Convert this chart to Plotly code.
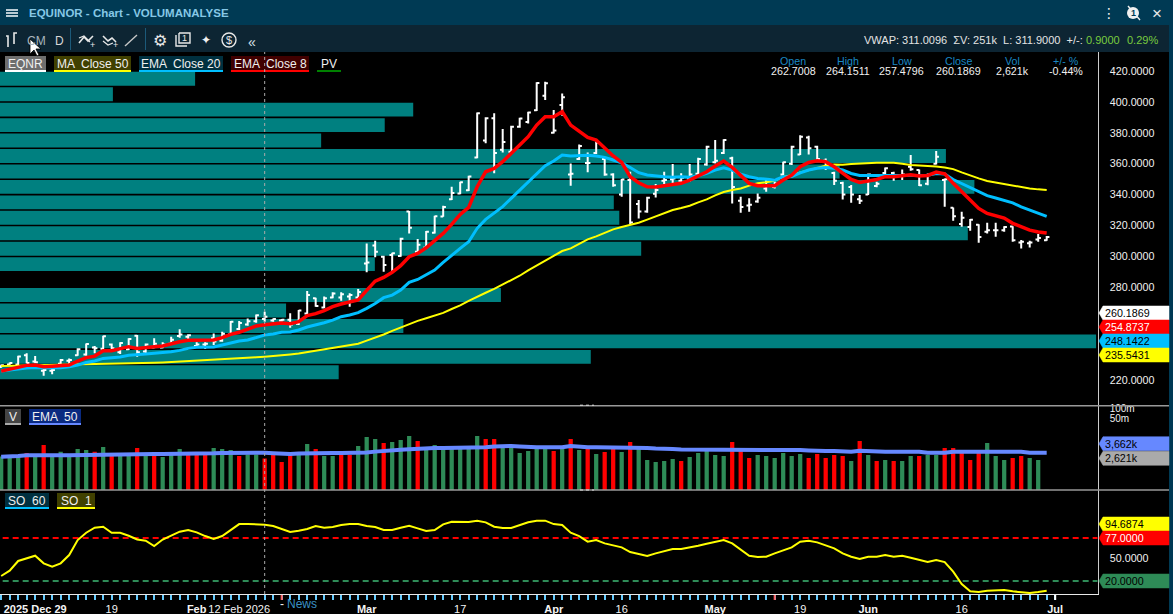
import plotly.graph_objects as go

W, H = 1173, 614

# price bars, one per trading day
open_ = [228.5, 230, 230, 236, 232, 226, 226, 230.5, 232.5, 236, 236.5, 241, 240.3, 243, 238, 240, 248.6, 238.5, 241, 241,
         243.5, 248.5, 248, 242, 243, 247, 245.5, 249.5, 253, 256, 258, 259.5, 258.5, 258.5, 259, 256.5, 263, 273, 267, 273.5,
         273.5, 274, 273.5, 295.5, 307, 299.8, 301, 300.3, 329, 303, 305.7, 315.4, 325.9, 337, 340.7, 342.8, 364, 375, 389.5, 369,
         367.8, 384, 387, 394.6, 404, 380, 398, 353, 363, 360.5, 367, 363, 353, 340, 349.5, 334, 329, 340.5, 349, 350,
         349, 350, 353.5, 359.5, 361, 367, 363.5, 336, 333, 335.5, 344, 345, 353, 360, 366, 377, 371, 362, 354, 347.5,
         345, 337, 340, 345.5, 354, 354, 352, 358, 356, 347, 359.9, 349.5, 331.5, 321, 319, 320.5, 316, 317, 317, 319.3,
         309, 308.5, 311, 310.5]
high = [230, 231.4, 235.8, 237.3, 235.5, 227.1, 227.1, 233.6, 234, 240.5, 243.7, 242, 248.7, 243.7, 244.4, 247, 249.1, 243.7, 247, 244.4,
        248.1, 252.8, 249.6, 244.4, 244.4, 250.2, 251.3, 258.2, 258.2, 259.9, 262.5, 264.2, 259.9, 259.5, 263.2, 265.3, 277.6, 273.3, 274, 276.8,
        276.8, 276.1, 278.9, 308.4, 310.2, 300.5, 302.4, 312.1, 329.4, 311.3, 316.4, 326.4, 332.8, 345.1, 348.4, 352.2, 393.2, 390, 392.6, 382.4,
        384.6, 389.8, 393.7, 412.7, 413.1, 394.7, 405.5, 360.2, 372.5, 367.3, 374.3, 363, 353.8, 350.1, 354.8, 336.5, 338.6, 346.8, 354.8, 359.8,
        353.8, 359.8, 363.9, 371.7, 375.3, 375.8, 364.5, 338.6, 337.6, 340.8, 350.5, 348.3, 361.3, 371.6, 378.5, 378.1, 371.6, 363.4, 354.8, 348.3,
        346.2, 339.7, 353.7, 348.3, 357.6, 354.8, 356.3, 365.6, 356.3, 353.7, 368.2, 350.5, 331.7, 328.9, 324.2, 320.9, 321.8, 321.8, 319.6, 319.6,
        310.6, 310.1, 314.5, 313.2]
low = [228, 229.7, 229.7, 230.8, 230.8, 222.8, 223.7, 229.7, 230.2, 235.8, 235.8, 237.3, 239.9, 239.4, 236.8, 239.4, 235.1, 237.3, 240.5, 240.5,
       242.7, 247.4, 245.9, 240.9, 240.1, 242.7, 244.8, 249.1, 252.4, 255.2, 257.1, 257.8, 257.8, 257.8, 253.9, 255.6, 262.5, 267.5, 266.4, 272.9,
       271.4, 267.5, 272.9, 289.7, 299.4, 290.1, 290.1, 299.8, 314.9, 302.6, 305.2, 314.9, 325.7, 336.5, 340.2, 342.3, 363.5, 373.2, 353.8, 367.3,
       367.3, 383.3, 386.1, 394.1, 401.2, 379.6, 391.1, 345.8, 362.4, 354.4, 366.3, 352.2, 345.1, 338.7, 321, 324.6, 328.3, 338.2, 346.8, 346.8,
       347.3, 348.4, 352.7, 358.7, 360.2, 366.3, 334.3, 328.3, 328.9, 334.8, 341.9, 344, 352.6, 359.1, 365.6, 366, 361.7, 355.9, 346.2, 336.9,
       334.7, 333.9, 339.7, 344.7, 353.3, 349, 349.4, 355.5, 345.5, 346, 359.5, 332.2, 323.1, 319.2, 316.6, 308.8, 314.9, 312.7, 316, 309.5,
       305.2, 305.8, 309.5, 310.1]
close = [229.5, 231, 235.3, 231, 231.5, 226.5, 226.5, 233, 233, 240, 243.3, 240.5, 248.4, 240.5, 244, 246.6, 238, 243, 243.5, 243,
         246, 249.5, 249, 243, 243.5, 245, 250, 257.8, 257, 258, 262, 261, 259.5, 259, 256, 265, 275, 268, 273, 276,
         275.5, 275, 277, 296, 303, 294.4, 302, 311.5, 318.5, 307.5, 316, 326, 332, 341, 348, 351.8, 392.6, 389.5, 367, 374,
         384, 389.3, 393.2, 412.2, 412, 381.5, 403, 353.5, 371.5, 360.5, 373.8, 353, 346, 349.8, 322, 329, 338, 343, 349.5, 350.5,
         351, 353, 363, 371, 362, 375.3, 345, 332, 333.5, 338, 350, 347, 361, 371, 377.5, 370, 363, 358, 349, 340,
         340, 336, 353, 347, 357, 352, 353, 356.5, 346, 353, 364.5, 350, 326, 325, 323.8, 312.5, 317, 317, 319, 310.5,
         309.5, 309, 312, 312.5]

ema_8 = [225.8, 227.1, 228.6, 229.5, 229.7, 228.6, 228.9, 229.3, 229.7, 232.3, 234.5, 235.5, 239, 239, 240.5, 241.6, 240.5, 241.2, 241.6, 242,
         243.5, 244.8, 245.7, 245.9, 245.9, 245.9, 247.4, 249.6, 250.9, 252.8, 255, 255.8, 256.5, 256.9, 256.5, 257.8, 261.7, 263, 264.9, 267.5,
         269.2, 270.3, 271.8, 278, 284, 286.4, 289.7, 294, 299.8, 302, 305.6, 310.2, 314.9, 320.7, 327.2, 331.7, 345.1, 354.8, 357, 361.3,
         366.7, 372.1, 377.5, 385, 390.4, 390.4, 393.7, 385, 381.2, 377, 375.3, 370, 365, 360.9, 351.6, 347.7, 345.1, 344.9, 345.6, 346.2,
         347.3, 349.4, 352.2, 354.8, 358.5, 361.7, 357.6, 352.7, 347.3, 345.8, 345.6, 345.8, 349.4, 352.6, 358, 360.8, 361.9, 361.3, 358, 353.7,
         349.8, 347.9, 348.8, 349.8, 351.6, 351.6, 352.2, 352.9, 352, 352.4, 354.6, 353.5, 347.3, 341.9, 336.5, 331.1, 327.8, 326.1, 324.8, 321.4,
         319.2, 317, 315.8, 315.1]
ema_20 = [225.8, 226.5, 227.3, 227.8, 228.2, 228, 228, 228, 228.6, 229.7, 231.4, 232.3, 234, 234.5, 234.9, 236, 236.2, 236.8, 237.3, 237.7,
          238.3, 239.2, 240.5, 241.2, 241.4, 241.4, 242.7, 244.2, 245.3, 245.9, 247.4, 249.1, 249.8, 250.9, 251.1, 252.4, 254.3, 255.6, 257.1, 258.8,
          261, 262.1, 263.6, 266.4, 269.5, 273.3, 275, 278.2, 283.2, 285.1, 288, 291.2, 296.1, 300.9, 305.2, 309.5, 318.2, 324, 327.9, 332.2,
          337.6, 343, 348.4, 353.8, 358.7, 361.7, 365.6, 365, 365.4, 365.4, 365, 364.1, 362.4, 360.5, 357.6, 354.2, 352.7, 352, 351.6, 351.2,
          351.6, 351.2, 352.2, 353.7, 355.9, 357.4, 355.9, 353.3, 351.6, 350.5, 349.9, 349.4, 351.6, 351.8, 354.1, 355.9, 357, 357.6, 357, 355.9,
          353.7, 352.4, 352.4, 352.4, 352.6, 352.6, 352.6, 352.6, 352.6, 352.6, 353.7, 353.3, 349.8, 347.3, 344.4, 341.9, 339.3, 337.8, 336.2, 334.7,
          332.1, 330, 327.6, 325.9]
ma_50 = [229.1, 229.2, 229.3, 229.4, 229.5, 229.5, 229.6, 229.6, 229.7, 229.8, 229.9, 230.1, 230.3, 230.4, 230.6, 230.7, 230.9, 231, 231.2, 231.4,
         231.7, 231.9, 232.2, 232.4, 232.6, 232.8, 233.1, 233.5, 233.9, 234.3, 234.7, 235.1, 235.5, 236, 236.6, 237.2, 238.1, 238.9, 239.9, 240.7,
         241.5, 242.4, 243.5, 245.5, 247.3, 249.5, 251.8, 254, 256.2, 258.3, 260, 261.7, 263.5, 266, 268.3, 271.2, 274, 276.5, 279, 281.8,
         284.5, 287.5, 291, 294, 297, 300, 303.5, 305.2, 308.2, 311, 313, 315.5, 317.5, 319, 320.3, 321.8, 323.8, 325.7, 328, 330,
         331.3, 332.8, 335, 336.9, 339.5, 341.7, 343, 344, 345.8, 347.3, 348, 349, 351.5, 352.5, 354.4, 356, 357.3, 358.7, 359.5, 359.3,
         359.8, 360.2, 360.6, 360.6, 360.6, 360.6, 360, 359.1, 358.9, 358.7, 358.2, 357.6, 356.5, 354.4, 352.2, 350.5, 348.8, 347.8, 346.8, 346.2,
         345.2, 344, 343.4, 343]

# volume in shares (thousands), log panel
volume_k = [3000, 2950, 3110, 3870, 2950, 6940, 3350, 4250, 2950, 5180, 4820, 4250, 6000, 3350, 3350, 3350, 5570, 3350, 3350, 2890,
            3350, 5180, 3350, 3350, 3350, 5570, 5180, 4820, 3110, 3520, 3520, 2621, 3520, 2010, 3350, 3350, 7470, 5180, 3110, 3110,
            3350, 3350, 6460, 12460, 10760, 8040, 8640, 10000, 13400, 9300, 5570, 6940, 5570, 5570, 5570, 5570, 13400, 10760, 10760, 6940,
            6940, 3870, 4480, 5570, 5570, 4480, 5570, 10760, 4820, 5570, 3600, 4170, 5570, 4170, 8640, 5570, 2325, 2010, 2160, 2500,
            2160, 2890, 3870, 4820, 3350, 3110, 8640, 4820, 2690, 3350, 3110, 2690, 3870, 3110, 3600, 2690, 3600, 2690, 3350, 3110,
            2160, 9300, 3350, 2160, 2325, 2160, 2160, 3110, 3110, 3350, 3350, 5570, 5570, 3870, 2325, 3870, 8040, 3110, 2325, 2690,
            3110, 2690, 2325, 266]
red_days = [3, 5, 11, 13, 16, 18, 22, 23, 24, 28, 31, 32, 33, 34, 37, 40, 41, 45, 49, 57, 58, 65, 67, 69, 71, 72, 74, 80, 86, 87, 88,
            95, 96, 97, 98, 99, 101, 103, 105, 108, 111, 112, 113, 114, 115, 119, 120]
volume_ema_k = [2950, 2950, 3150, 3300, 3350, 3350, 3350, 3300, 3300, 3350, 3400, 3400, 3450, 3450, 3500, 3550, 3600, 3600, 3600, 3600,
                3600, 3600, 3600, 3600, 3650, 3800, 3900, 3950, 3950, 3950, 3950, 3950, 3850, 3600, 3600, 3750, 3850, 3900, 3900, 3900,
                3900, 3900, 3900, 4050, 4300, 4600, 4800, 4950, 5150, 5400, 5600, 5650, 5650, 5650, 5650, 5650, 5650, 5900, 6300, 6460,
                6460, 6300, 5900, 5880, 5880, 5880, 5880, 6460, 6000, 5880, 5880, 5880, 5880, 5880, 5880, 5880, 5650, 5430, 5430, 5200,
                5030, 5030, 5030, 5030, 5030, 4820, 5030, 5180, 5180, 4820, 4820, 4820, 4820, 4820, 4820, 4700, 4480, 4480, 4480, 4300,
                4250, 4580, 4580, 4580, 4300, 4250, 4250, 4250, 4250, 3950, 3950, 3950, 4250, 4250, 4250, 4250, 4250, 4250, 4250, 4250,
                4250, 3950, 3950, 3950]

so_1 = [26.6, 33.7, 46.5, 50, 53.5, 43.4, 39, 43.4, 54.4, 74.3, 84, 90.7, 92, 84, 84, 80, 75, 73.4, 66.4, 75,
        80, 85.4, 87.6, 84.5, 79.6, 75.6, 79.6, 87.6, 95.5, 95.5, 95.5, 94.7, 92.9, 88.9, 85, 86.7, 88.9, 92.9, 90.7, 91.6,
        94.2, 95.5, 95.5, 92.9, 91.6, 87.6, 87.6, 90.7, 93.3, 89.8, 86.3, 87.6, 95.1, 98.6, 98.2, 98.2, 100, 97.8, 92, 90.2,
        90.2, 94.2, 97.8, 100, 100, 95.5, 94.2, 84, 79.6, 72.1, 74.3, 69.9, 67.3, 64.6, 58.4, 55.8, 53.1, 56.6, 59.7, 62.4,
        62.4, 64.2, 66.8, 69.5, 72.1, 74.3, 69.9, 62, 53.5, 51.8, 52.2, 56.6, 61, 64.6, 72.1, 73.4, 71.2, 67.3, 63.3, 56.6,
        52.2, 49.1, 52.2, 52.2, 54.4, 52.2, 53.5, 50.9, 47.8, 45.1, 47.8, 45.1, 32.3, 16, 6.2, 5.4, 7.1, 7.1, 8, 6.2,
        5.4, 4, 5.4, 7.1]

# volume profile rows (share of the biggest row, percent)
pv_price = [415, 405, 395, 385, 375, 365, 355, 345, 335, 325, 315, 305, 295, 285, 275, 265, 255, 245, 235, 225]
pv_volume = [17.8, 10.3, 37.7, 35.1, 29.3, 86.3, 76.6, 88.9, 56, 56.5, 88.3, 58.5, 34.2, 0, 45.7, 26.1, 36.8, 100, 53.9, 30.9]

date_index = [4, 13, 23, 28, 43, 54, 65, 73, 84, 94, 102, 113, 124]
date_labels = ["<b>2025 Dec 29</b>", "19", "<b>Feb</b>", "12 Feb 2026", "<b>Mar</b>", "17", "<b>Apr</b>", "16", "<b>May</b>", "19", "<b>Jun</b>", "16", "<b>Jul</b>"]
cursor_index = 31
news_index = [33, 91]

assert len({len(s) for s in (open_, high, low, close, ema_8, ema_20, ma_50, volume_k, volume_ema_k, so_1)}) == 1

FONT = "Liberation Sans"
TEAL = "#008080"
RED = "#ff0000"
SKY = "#00bfff"
YELLOW = "#ffff00"
GREEN = "#2e8b57"
VOL_BLUE = "#6688ff"
BAR_TOP = "#003a54"
BAR_TOOLS = "#0d2533"
TICK_SIZE = 10.7

index = list(range(len(close)))
volume = [v * 1000 for v in volume_k]
volume_ema = [v * 1000 for v in volume_ema_k]
volume_colors = [RED if i in red_days else GREEN for i in index]

shapes = []
annotations = []


def px_x(x):
    return x / W


def px_y(y):
    return 1 - y / H


def rect(x0, y0, x1, y1, fill):
    shapes.append(dict(type="rect", xref="paper", yref="paper", x0=px_x(x0), x1=px_x(x1), y0=px_y(y0), y1=px_y(y1),
                       fillcolor=fill, line_width=0, layer="above"))


def seg(x0, y0, x1, y1, color, width=1.0, dash="solid"):
    shapes.append(dict(type="line", xref="paper", yref="paper", x0=px_x(x0), x1=px_x(x1), y0=px_y(y0), y1=px_y(y1),
                       line=dict(color=color, width=width, dash=dash), layer="above"))


def label(x, y, text, size=11, color="#e8e8e8", anchor="center", family=FONT):
    annotations.append(dict(x=px_x(x), y=px_y(y), xref="paper", yref="paper", text=text, showarrow=False,
                            xanchor=anchor, yanchor="middle", font=dict(family=family, size=size, color=color),
                            borderpad=0, borderwidth=0))


def path(points, fill="rgba(0,0,0,0)", color="white", width=1.5):
    d = "M " + " L ".join(f"{px_x(x):.5f},{px_y(y):.5f}" for x, y in points)
    shapes.append(dict(type="path", xref="paper", yref="paper", path=d, fillcolor=fill,
                       line=dict(color=color, width=width), layer="above"))


def chip(x0, x1, y0, text, bg, line_color):
    if bg:
        rect(x0, y0, x1, y0 + 14, bg)
    rect(x0, y0 + 14, x1, y0 + 16, line_color)
    label((x0 + x1) / 2, y0 + 7.5, text, size=12, color="#f0f0f0")


def tag(y, text, fill, fg):
    d = [(1099, y), (1103, y - 7), (1169, y - 7), (1169, y + 7), (1103, y + 7), (1099, y)]
    path(d, fill=fill, color=fill, width=0.5)
    label(1105, y, text, size=TICK_SIZE, color=fg, anchor="left")


# window frame
rect(0, 0, W, 25, BAR_TOP)
rect(0, 25, W, 52, BAR_TOOLS)
rect(1169, 25, W, H, BAR_TOP)
for y in (10, 13, 16):
    seg(6, y, 18, y, "#e8f0f4", 1.6)
label(29, 13, "<b>EQUINOR - Chart - VOLUMANALYSE</b>", size=11.5, color="#86c8e6", anchor="left")
seg(70.5, 28, 70.5, 50, "#1c5a7a", 1)
seg(145.5, 28, 145.5, 50, "#1c5a7a", 1)

# toolbar icons
path([(8, 47), (8, 36), (6, 36)], color="#e8e8e8", width=1.6)
path([(14, 44), (14, 33), (17, 33)], color="#e8e8e8", width=1.6)
label(36, 41, "CM", size=12, color="#a8b4bc")
label(59, 41, "D", size=12, color="#d8d8d8")
path([(79, 43), (84, 37), (88, 41), (93, 36)], color="#e8e8e8", width=1.6)
path([(79, 38), (84, 36), (90, 42)], color="#e8e8e8", width=1.2)
label(92, 45, "+", size=9, color="#e8e8e8")
path([(103, 36), (108, 41), (112, 38), (116, 42)], color="#e8e8e8", width=1.6)
path([(103, 41), (108, 45), (113, 43)], color="#e8e8e8", width=1.2)
label(115, 45, "+", size=9, color="#e8e8e8")
path([(125, 46), (137, 35)], color="#c8c8c8", width=1.4)
label(160, 40, "⚙", size=16, color="#e8e8e8", family="DejaVu Sans")
path([(176, 35), (176, 46), (187, 46)], color="#e8e8e8", width=1.4)
path([(179, 33), (190, 33), (190, 43), (179, 43), (179, 33)], color="#e8e8e8", width=1.4)
label(184.5, 38, "1", size=9, color="#e8e8e8")
label(206, 40, "✦", size=12, color="#f0f0f0", family="DejaVu Sans")
shapes.append(dict(type="circle", xref="paper", yref="paper", x0=px_x(222), x1=px_x(236), y0=px_y(47), y1=px_y(33),
                   line=dict(color="#e8e8e8", width=1.4), layer="above"))
label(229, 40, "$", size=11, color="#e8e8e8")
label(252, 42, "«", size=14, color="#d8e0e6")

# top right controls
label(1109, 13, "⋮", size=14, color="#f0f0f0", family="DejaVu Sans")
shapes.append(dict(type="circle", xref="paper", yref="paper", x0=px_x(1127), x1=px_x(1139), y0=px_y(19), y1=px_y(7),
                   fillcolor="#f0f0f0", line_width=0, layer="above"))
label(1133, 13, "<b>1</b>", size=9, color="#003a54")
path([(1128, 6), (1140, 20)], color="#f0f0f0", width=1.4)
label(1157, 13, "×", size=17, color="#e8e8e8")

label(1083, 40, "VWAP: 311.0096  ΣV: 251k  L: 311.9000  +/-:", size=11, color="#e4e4e4", anchor="right")
label(1103, 40, "0.9000", size=11, color="#79cc3e")
label(1142, 40, "0.29%", size=11, color="#79cc3e")

# header of the bar under the cursor
header = [(793, "Open", "262.7008"), (848, "High", "264.1511"), (902, "Low", "257.4796"),
          (958, "Close", "260.1869"), (1012, "Vol", "2,621k"), (1066, "+/- %", "-0.44%")]
for x, name, value in header:
    label(x, 61, name, size=TICK_SIZE, color="#1a88c4")
    label(x, 71, value, size=TICK_SIZE, color="#f0f0f0")

chip(5, 46, 56, "EQNR", "#6e6e6e", "#ffffff")
chip(54, 131, 56, "MA  Close 50", "#404000", YELLOW)
chip(139, 223, 56, "EMA  Close 20", "#00303f", SKY)
chip(231, 309, 56, "EMA  Close 8", "#400000", RED)
chip(317, 341, 56, "PV", None, "#008000")
chip(5, 21, 409, "V", "#444444", "#aaaaaa")
chip(29, 81, 409, "EMA  50", "#0a2a80", VOL_BLUE)
chip(5, 49, 493, "SO  60", "#003040", SKY)
chip(57, 95, 493, "SO  1", "#404000", YELLOW)

# panel separators and grips
seg(0, 405.7, 1169, 405.7, "#999999", 1.5)
seg(0, 490, 1169, 490, "#999999", 1.5)
seg(580, 405.2, 594, 405.2, "#dddddd", 1, "dot")
seg(580, 490, 594, 490, "#dddddd", 1, "dot")

# value tags on the right axis
tag(313, "260.1869", "#ffffff", "#000000")
tag(327, "254.8737", RED, "#ffffff")
tag(341, "248.1422", SKY, "#000000")
tag(355, "235.5431", YELLOW, "#000000")
tag(443.7, "3,662k", VOL_BLUE, "#000000")
tag(458.3, "2,621k", "#aaaaaa", "#000000")
tag(524, "94.6874", YELLOW, "#000000")
tag(538, "77.0000", RED, "#ffffff")
tag(581, "20.0000", GREEN, "#000000")

label(282, 603.5, "-", size=12, color="#f0f0f0")
label(302, 603.5, "News", size=12, color="#3a90c4")

# mouse pointer sitting on the toolbar
path([(30, 39), (30, 54), (34, 50), (37, 56), (39, 55), (36, 49), (41, 49), (30, 39)], fill="#ffffff", color="#000000", width=0.8)

# cursor line and the news marks on the date axis
shapes.append(dict(type="line", xref="x4", yref="paper", x0=cursor_index, x1=cursor_index, y0=px_y(594), y1=px_y(52),
                   line=dict(color="#aaaaaa", width=1, dash="dot"), layer="above"))
for i in news_index:
    shapes.append(dict(type="line", xref="x4", yref="paper", x0=i, x1=i, y0=px_y(595), y1=px_y(600),
                       line=dict(color="#ff6060", width=2), layer="above"))
shapes.append(dict(type="line", xref="x4", yref="paper", x0=date_index[-1], x1=date_index[-1], y0=px_y(595), y1=px_y(600),
                   line=dict(color="#ffffff", width=2), layer="above"))

fig = go.Figure()

fig.add_trace(go.Bar(y=pv_price, x=pv_volume, orientation="h", width=9, marker=dict(color=TEAL, line_width=0),
                     xaxis="x", yaxis="y", name="PV"))
fig.add_trace(go.Ohlc(x=index, open=open_, high=high, low=low, close=close, xaxis="x2", yaxis="y", name="EQNR", tickwidth=0.32,
                      increasing=dict(line=dict(color="#ffffff", width=2)),
                      decreasing=dict(line=dict(color="#ffffff", width=2))))
fig.add_trace(go.Scatter(x=index, y=ma_50, mode="lines", line=dict(color=YELLOW, width=2), xaxis="x2", yaxis="y", name="MA Close 50"))
fig.add_trace(go.Scatter(x=index, y=ema_20, mode="lines", line=dict(color=SKY, width=3), xaxis="x2", yaxis="y", name="EMA Close 20"))
fig.add_trace(go.Scatter(x=index, y=ema_8, mode="lines", line=dict(color=RED, width=3.5), xaxis="x2", yaxis="y", name="EMA Close 8"))

fig.add_trace(go.Bar(x=index, y=volume, width=0.5, marker=dict(color=volume_colors, line_width=0), xaxis="x3", yaxis="y2", name="V"))
fig.add_trace(go.Scatter(x=index, y=volume_ema, mode="lines", line=dict(color=VOL_BLUE, width=4), xaxis="x3", yaxis="y2", name="EMA 50"))

fig.add_trace(go.Scatter(x=[index[0] - 1, 129], y=[77, 77], mode="lines", line=dict(color=RED, width=2, dash="6px,4px"), xaxis="x4", yaxis="y3"))
fig.add_trace(go.Scatter(x=[index[0] - 1, 129], y=[20, 20], mode="lines", line=dict(color=GREEN, width=2, dash="6px,4px"), xaxis="x4", yaxis="y3"))
fig.add_trace(go.Scatter(x=index, y=so_1, mode="lines", line=dict(color=YELLOW, width=2), xaxis="x4", yaxis="y3", name="SO 1"))

x_domain = [0, 1097.7 / W]
x_range = [-0.138, 129]
tick_text = {i: t for i, t in zip(date_index, date_labels)}
tick_vals = index + [date_index[-1]]

fig.update_layout(
    width=W,
    height=H,
    margin=dict(l=0, r=0, t=0, b=0),
    autosize=False,
    paper_bgcolor="#000000",
    plot_bgcolor="#000000",
    showlegend=False,
    hovermode=False,
    font=dict(family=FONT, size=11, color="#e8e8e8"),
    shapes=shapes,
    annotations=annotations,
    xaxis=dict(domain=x_domain, range=[0, 100.15], visible=False, anchor="y", fixedrange=True, automargin=False),
    xaxis2=dict(domain=x_domain, range=x_range, overlaying="x", visible=False, anchor="y", rangeslider=dict(visible=False), automargin=False),
    xaxis3=dict(domain=x_domain, range=x_range, visible=False, anchor="y2", automargin=False),
    xaxis4=dict(domain=x_domain, range=x_range, anchor="y3", showgrid=False, zeroline=False, showline=True, linecolor="#e8e8e8",
                linewidth=1, ticks="outside", ticklen=5, tickwidth=2, tickcolor="#66ccff", automargin=False, ticklabeloverflow="allow",
                tickmode="array", tickvals=tick_vals, ticktext=[tick_text.get(i, "") for i in tick_vals],
                tickangle=0, tickfont=dict(family=FONT, size=11, color="#f4f4f4")),
    yaxis=dict(domain=[px_y(405.7), px_y(52)], range=[203.4, 432.3], side="right", anchor="x", showgrid=False, zeroline=False,
               showline=True, linecolor="#cccccc", linewidth=1, ticks="outside", ticklen=9, tickcolor="rgba(0,0,0,0)", automargin=False,
               tickmode="array", tickvals=[420, 400, 380, 360, 340, 320, 300, 280, 220],
               ticktext=["420.0000", "400.0000", "380.0000", "360.0000", "340.0000", "320.0000", "300.0000", "280.0000", "220.0000"],
               tickfont=dict(family=FONT, size=TICK_SIZE, color="#f0f0f0")),
    yaxis2=dict(domain=[px_y(490), px_y(406)], type="log", range=[5.418, 8.079], side="right", anchor="x3", showgrid=False, zeroline=False,
                showline=True, linecolor="#cccccc", linewidth=1, ticks="outside", ticklen=9, tickcolor="rgba(0,0,0,0)", automargin=False,
                tickmode="array", tickvals=[5e7, 1e8], ticktext=["50m", "100m"], tickfont=dict(family=FONT, size=10, color="#f0f0f0")),
    yaxis3=dict(domain=[px_y(594), px_y(490)], range=[2.7, 140.7], side="right", anchor="x4", showgrid=False, zeroline=False,
                showline=True, linecolor="#cccccc", linewidth=1, ticks="outside", ticklen=9, tickcolor="rgba(0,0,0,0)", automargin=False,
                tickmode="array", tickvals=[50], ticktext=["50.0000"], tickfont=dict(family=FONT, size=TICK_SIZE, color="#f0f0f0")),
)

fig.write_html("out.html", config=dict(displayModeBar=False),
               post_script="document.body.style.margin='0';document.body.style.overflow='hidden';")
